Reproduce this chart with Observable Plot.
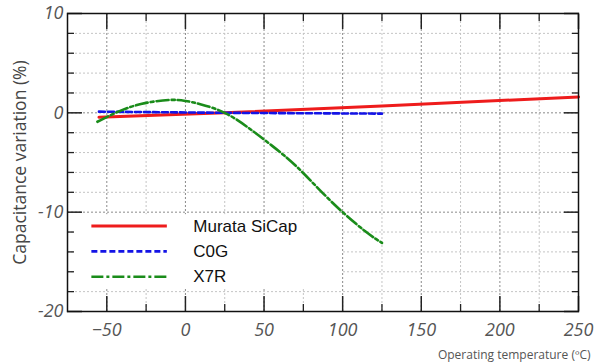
<!DOCTYPE html>
<html>
<head>
<meta charset="utf-8">
<script src="https://cdn.jsdelivr.net/npm/d3@7"></script>
<script src="https://cdn.jsdelivr.net/npm/@observablehq/plot@0.6"></script>
<style>
  html, body { margin: 0; padding: 0; background: #fff; }
</style>
</head>
<body>
<div id="chart"></div>
<script>
// Data
const seriesNames = ["Murata SiCap", "C0G", "X7R"];
const sicapTemp = [-55, 25, 125, 250];
const sicapVal  = [-0.45, 0, 0.7, 1.6];
const c0gTemp = [-55, 25, 125];
const c0gVal  = [0.12, 0, -0.08];
const x7rTemp = [-56, -40, -25, -10, 0, 10, 25, 40, 55, 70, 85, 100, 115, 125];
const x7rVal  = [-0.9, 0.3, 1.0, 1.3, 1.2, 0.85, 0, -1.5, -3.3, -5.3, -7.7, -10.0, -12.0, -13.1];

const xMajor = [-50, 0, 50, 100, 150, 200, 250];
const xMinor = [-25, 25, 75, 125, 175, 225];
const yMajor = [-20, -10, 0, 10];
const yMinor = [-18, -16, -14, -12, -8, -6, -4, -2, 2, 4, 6, 8];
const yTickLabels = ["-20", "-10", "0", "10"];

const colors = ["#ee1c1c", "#1414e6", "#1a8c1a"];
const dashes = [null, "6,3", "12,3,3,3"];

const sicap = sicapTemp.map((t, i) => ({t, v: sicapVal[i]}));
const c0g = c0gTemp.map((t, i) => ({t, v: c0gVal[i]}));
const x7r = x7rTemp.map((t, i) => ({t, v: x7rVal[i]}));

// legend rows
const legendRows = seriesNames.map((name, i) => ({name, i, y: -11.4 - i * 2.55}));

const tickFont = "'Open Sans', sans-serif";

const chart = Plot.plot({
  width: 609,
  height: 363,
  marginLeft: 67,
  marginRight: 31,
  marginTop: 13,
  marginBottom: 52,
  x: {domain: [-75, 250], label: null},
  y: {domain: [-20, 10], label: null},
  style: {background: "#fff", fontFamily: tickFont},
  marks: [
    Plot.gridX(xMinor, {stroke: "#c4c4c4", strokeOpacity: 1, strokeDasharray: "2,2"}),
    Plot.gridX(xMajor, {stroke: "#8a8a8a", strokeOpacity: 1, strokeDasharray: "2,2"}),
    Plot.gridY(yMinor, {stroke: "#c4c4c4", strokeOpacity: 1, strokeDasharray: "2,2"}),
    Plot.gridY(yMajor, {stroke: "#8a8a8a", strokeOpacity: 1, strokeDasharray: "2,2"}),
    // legend background
    Plot.rect([0], {x1: -71, x2: 99.5, y1: -10.25, y2: -17.75, fill: "white"}),
    Plot.line(sicap, {x: "t", y: "v", stroke: colors[0], strokeWidth: 3}),
    Plot.line(c0g, {x: "t", y: "v", stroke: colors[1], strokeWidth: 2.6, strokeDasharray: dashes[1]}),
    Plot.line(x7r, {x: "t", y: "v", stroke: colors[2], strokeWidth: 2.6, strokeDasharray: dashes[2], curve: "natural"}),
    // legend
    ...legendRows.map(r => Plot.ruleY([r.y], {x1: -59.5, x2: -11.5, stroke: colors[r.i], strokeWidth: r.i === 0 ? 3 : 2.6, strokeDasharray: dashes[r.i]})),
    Plot.text(legendRows, {x: 5, y: "y", text: "name", textAnchor: "start", fontSize: 17, fill: "#111", fontFamily: "'Liberation Sans', Arial, sans-serif"}),
    // axes ticks (inward)
    Plot.axisY(yMajor, {anchor: "left", tickSize: -15, text: null, stroke: "#222", strokeWidth: 1.5, label: null}),
    Plot.axisY(yMinor, {anchor: "left", tickSize: -7, text: null, stroke: "#222", strokeWidth: 1.3, label: null}),
    Plot.axisY(yMajor, {anchor: "right", tickSize: -15, text: null, stroke: "#222", strokeWidth: 1.5, label: null}),
    Plot.axisY(yMinor, {anchor: "right", tickSize: -7, text: null, stroke: "#222", strokeWidth: 1.3, label: null}),
    Plot.axisX(xMajor, {anchor: "bottom", tickSize: -15, text: null, stroke: "#222", strokeWidth: 1.5, label: null}),
    Plot.axisX(xMinor, {anchor: "bottom", tickSize: -7, text: null, stroke: "#222", strokeWidth: 1.3, label: null}),
    Plot.axisX(xMajor, {anchor: "top", tickSize: -15, text: null, stroke: "#222", strokeWidth: 1.5, label: null}),
    Plot.axisX(xMinor, {anchor: "top", tickSize: -7, text: null, stroke: "#222", strokeWidth: 1.3, label: null}),
    // tick labels
    Plot.axisY(yMajor, {anchor: "left", tickSize: 0, tickPadding: 4, tickFormat: (d) => yTickLabels[yMajor.indexOf(d)], fontSize: 18, fontStyle: "italic", fill: "#555", label: null}),
    Plot.axisX(xMajor, {anchor: "bottom", tickSize: 0, tickPadding: 12, fontSize: 18, fontStyle: "italic", fill: "#555", label: null}),
    Plot.frame({stroke: "#111", strokeWidth: 1.5}),
    Plot.text(["Capacitance variation (%)"], {frameAnchor: "left", textAnchor: "middle", dx: -47, dy: 0, rotate: -90, fontSize: 17.5, fill: "#444"}),
    Plot.text(["Operating temperature (ºC)"], {frameAnchor: "bottom-right", textAnchor: "end", dx: 12, dy: 47, fontSize: 12, fill: "#555"})
  ]
});
document.getElementById("chart").appendChild(chart);
</script>
</body>
</html>
